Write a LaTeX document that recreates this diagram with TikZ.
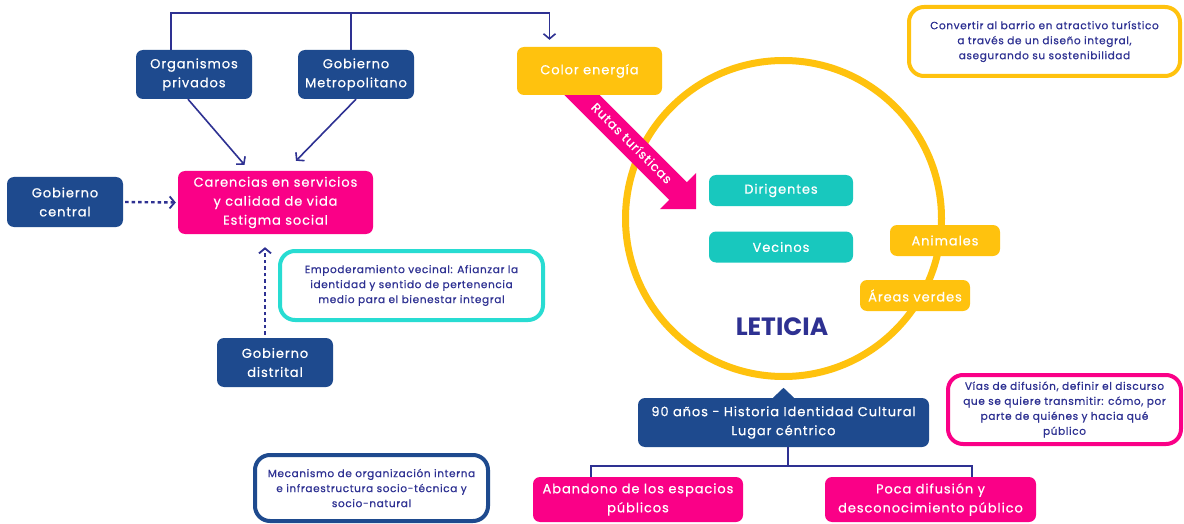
\documentclass[tikz,border=0pt]{standalone}
\usepackage{fontspec}
\setmainfont{Poppins}
\newfontfamily\pf[LetterSpace=7,FakeBold=0.6]{Poppins}
\newfontfamily\pfs[LetterSpace=6,FakeBold=0.7]{Poppins}
\usetikzlibrary{arrows.meta}
\definecolor{navybox}{RGB}{30,74,142}
\definecolor{conncol}{RGB}{46,49,146}
\definecolor{mag}{RGB}{250,0,135}
\definecolor{yel}{RGB}{255,194,14}
\definecolor{tealbox}{RGB}{24,200,190}
\definecolor{cyanb}{RGB}{40,220,210}
\begin{document}
\begin{tikzpicture}[x=1pt,y=-1pt,
  fillbox/.style={rounded corners=7pt, inner sep=0pt, align=center, text=white, font=\pf\fontsize{13}{19}\selectfont},
  nbox/.style={fillbox, fill=navybox},
  mbox/.style={fillbox, fill=mag},
  ybox/.style={fillbox, fill=yel},
  tbox/.style={fillbox, fill=tealbox},
  obox/.style={rounded corners=15pt, line width=4pt, fill=white, inner sep=0pt, align=center, text=conncol, font=\pfs\fontsize{10.5}{15}\selectfont},
  line/.style={draw=conncol, line width=1.6pt},
  conn/.style={line, -{Straight Barb[length=5pt,width=12pt]}},
  dotconn/.style={draw=conncol, line width=2.4pt, dash pattern=on 3.5pt off 3pt, -{Straight Barb[length=5pt,width=12pt,line width=1.8pt]}}]
\useasboundingbox (0,0) rectangle (1184,524);
\fill[white] (0,0) rectangle (1184,524);

% ring
\coordinate (cc) at (783.5,218.5);
\draw[yel, line width=7pt] (cc) circle[radius=158];

% Rutas turisticas arrow
\fill[mag] (568.8,64.2) -- (686.8,182.2) -- (696.2,172.8) -- (696.2,209.2) -- (659.8,209.2) -- (669.2,199.8) -- (551.2,81.8) -- cycle;

% left nodes
\node[nbox, minimum width=116, minimum height=49] (org) at (194,74.5) {Organismos\\privados};
\node[nbox, minimum width=116, minimum height=49] (metro) at (356,74.5) {Gobierno\\Metropolitano};
\node[nbox, minimum width=116, minimum height=50] (gc) at (65,202) {Gobierno\\central};
\node[mbox, minimum width=195, minimum height=63] (car) at (275.5,202.5) {Carencias en servicios\\y calidad de vida\\Estigma social};
\node[nbox, minimum width=116, minimum height=49] (gd) at (275,362.5) {Gobierno\\distrital};
\node[obox, draw=cyanb, minimum width=263, minimum height=69] (emp) at (411.5,285.5) {Empoderamiento vecinal: Afianzar la\\identidad y sentido de pertenencia\\medio para el bienestar integral};
\node[obox, draw=navybox, minimum width=233, minimum height=66] (mec) at (371.5,488) {Mecanismo de organización interna\\e infraestructura socio-técnica y\\socio-natural};

% right nodes
\node[ybox, minimum width=145, minimum height=48] (ce) at (589.5,71) {Color energía};
\node[rotate=-45, text=white, inner sep=0pt, font=\pf\fontsize{12.5}{14}\selectfont] (rutas) at (632,143) {Rutas turísticas};
\node[tbox, minimum width=144, minimum height=31] (dir) at (781,190.5) {Dirigentes};
\node[tbox, minimum width=144, minimum height=31] (vec) at (781,247) {Vecinos};
\node[ybox, minimum width=110, minimum height=31] (ani) at (945,240.5) {Animales};
\node[ybox, minimum width=110, minimum height=31] (are) at (915,295.5) {Áreas verdes};
\node[text=conncol, font=\fontsize{25}{30}\selectfont\bfseries] (let) at (782,327) {LETICIA};
\node[obox, draw=yel, minimum width=271, minimum height=69] (conv) at (1044.5,41.5) {Convertir al barrio en atractivo turístico\\a través de un diseño integral,\\asegurando su sostenibilidad};
\node[obox, draw=mag, minimum width=233, minimum height=69] (vias) at (1064.5,409.5) {Vías de difusión, definir el discurso\\que se quiere transmitir: cómo, por\\parte de quiénes y hacia qué\\público};
\node[nbox, minimum width=291, minimum height=49] (ninety) at (783.5,422.5) {90 años - Historia Identidad Cultural\\Lugar céntrico};
\fill[navybox] ([xshift=-10.5]ninety.north) -- ([yshift=10]ninety.north) -- ([xshift=10.5]ninety.north) -- cycle;
\node[mbox, minimum width=210, minimum height=45] (aband) at (638,499.5) {Abandono de los espacios\\públicos};
\node[mbox, minimum width=211, minimum height=45] (poca) at (930.5,499.5) {Poca difusión y\\desconocimiento público};

% connectors
\coordinate (tr) at (549.5,13);
\draw[line] ([xshift=-23]org.north) |- (tr);
\draw[line] ([xshift=-5]metro.north) -- ++(0,-37);
\draw[conn, shorten >=7pt] (tr) -- ([xshift=-40]ce.north);
\draw[conn] ([xshift=-6]org.south) -- ([xshift=-31,yshift=6]car.north);
\draw[conn] (metro.south) -- ([xshift=20.5,yshift=10]car.north);
\draw[dotconn, shorten <=2pt, shorten >=2pt] (gc.east) -- (car.west);
\draw[dotconn, shorten <=3pt, shorten >=13pt] ([xshift=-10]gd.north) -- ([xshift=-10.5]car.south);
\draw[line] ([xshift=4.5]ninety.south) -- ++(0,19);
\draw[line] ([xshift=-47]aband.north) -- ++(0,-11) -| ([xshift=41.5]poca.north);
\end{tikzpicture}
\end{document}
